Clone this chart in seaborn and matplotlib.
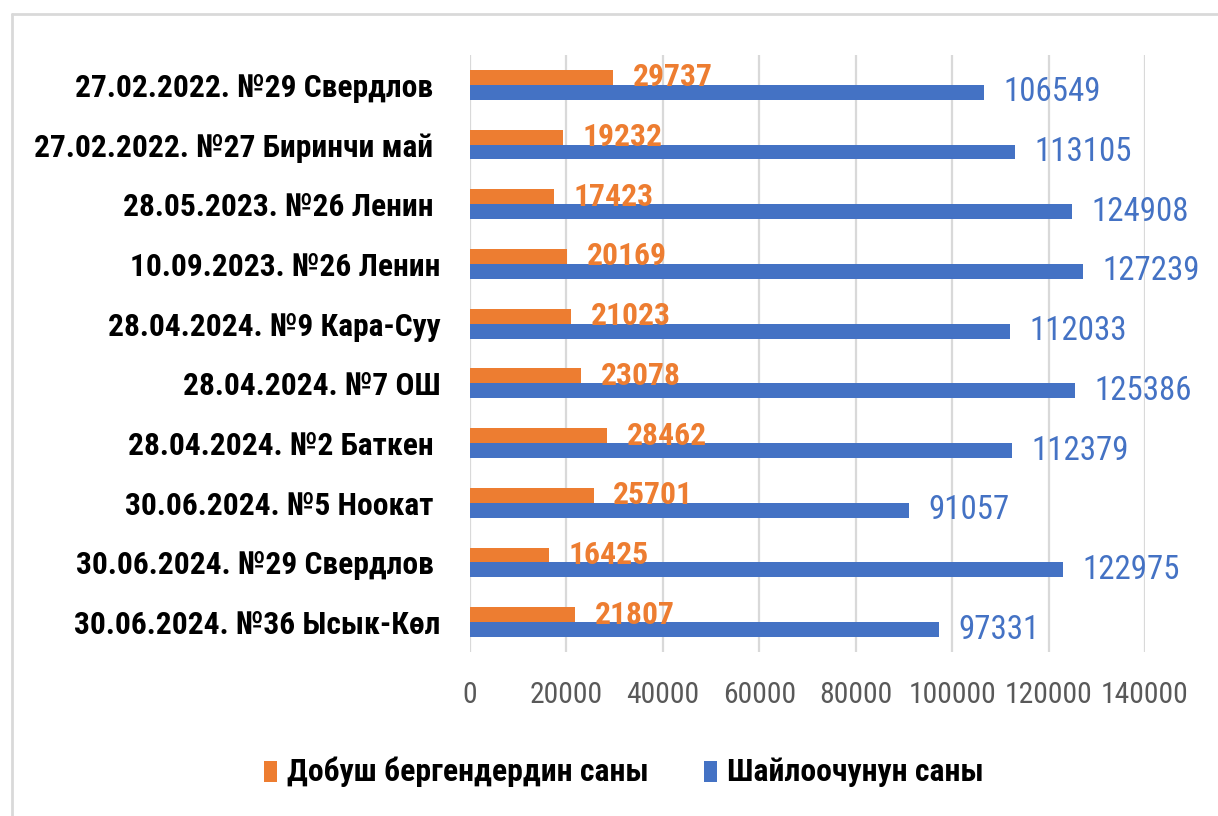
import matplotlib
matplotlib.use("Agg")
import matplotlib.pyplot as plt
import seaborn as sns
import pandas as pd
from matplotlib.lines import Line2D
from matplotlib.patches import Patch
from matplotlib import font_manager

categories = [
    "27.02.2022. №29 Свердлов ",
    "27.02.2022. №27 Биринчи май ",
    "28.05.2023. №26 Ленин ",
    "10.09.2023. №26 Ленин",
    "28.04.2024. №9 Кара-Суу",
    "28.04.2024. №7 ОШ",
    "28.04.2024. №2 Баткен ",
    "30.06.2024. №5 Ноокат ",
    "30.06.2024. №29 Свердлов ",
    "30.06.2024. №36 Ысык-Көл",
]
voted = [29737, 19232, 17423, 20169, 21023, 23078, 28462, 25701, 16425, 21807]
voters = [106549, 113105, 124908, 127239, 112033, 125386, 112379, 91057, 122975, 97331]
series_names = ["Добуш бергендердин саны", "Шайлоочунун саны"]
colors = ["#ED7D31", "#4472C4"]
xticks = [0, 20000, 40000, 60000, 80000, 100000, 120000, 140000]

df = pd.DataFrame({
    "cat": categories * 2,
    "value": voted + voters,
    "series": [series_names[0]] * len(categories) + [series_names[1]] * len(categories),
})

# pick a condensed face if one is installed
names = {f.name for f in font_manager.fontManager.ttflist}
stretch = "normal"
fam = "DejaVu Sans"
for cand in ["Liberation Sans Narrow", "Roboto Condensed", "Open Sans Condensed"]:
    if cand in names:
        fam = cand
        break
else:
    for f in font_manager.fontManager.ttflist:
        if f.name == "DejaVu Sans" and str(f.stretch) in ("condensed", "semi-condensed"):
            stretch = "condensed"
            break

sns.set_theme(style="white")
FONT = [fam, "DejaVu Sans"]
plt.rcParams["font.family"] = FONT
plt.rcParams["font.stretch"] = stretch

W, H = 1218, 816
fig = plt.figure(figsize=(W / 100, H / 100), dpi=100)
ax = fig.add_axes([470 / W, 1 - 652 / H, (1145 - 470) / W, (652 - 55) / H])

sns.barplot(data=df, y="cat", x="value", hue="series", hue_order=series_names,
            order=categories, palette=colors, orient="h", width=0.5,
            saturation=1, ax=ax, legend=False, zorder=2, linewidth=0)

ax.set_xlim(0, 140000)
ax.set_ylim(len(categories) - 0.5, -0.5)
ax.set_xticks(xticks)
ax.set_xticklabels([str(t) for t in xticks], fontsize=19, color="#595959")
ax.tick_params(axis="x", length=0, pad=21)
ax.tick_params(axis="y", length=0, pad=21)
for lbl in ax.get_yticklabels():
    lbl.set_fontsize(20)
    lbl.set_fontweight("bold")
    lbl.set_color("black")
ax.set_xlabel("")
ax.set_ylabel("")
for s in ax.spines.values():
    s.set_visible(False)
ax.xaxis.grid(True, color="#D9D9D9", linewidth=1.6, zorder=0)
ax.yaxis.grid(False)
ax.set_axisbelow(True)

data_texts = []
for container, col, weight in zip(ax.containers, colors, ["bold", "normal"]):
    data_texts.append(ax.bar_label(container, labels=[str(int(v)) for v in container.datavalues],
                                   padding=14, color=col, fontsize=21, fontweight=weight, zorder=5))

handles = [Patch(facecolor=c, edgecolor="none") for c in colors]
leg = fig.legend(handles, series_names, loc="center", bbox_to_anchor=(0.512, 1 - 772 / H),
                 ncol=2, frameon=False, prop={"size": 20, "weight": "bold"},
                 handlelength=0.47, handleheight=0.75, handletextpad=0.36, columnspacing=2.0)
for t in leg.get_texts():
    t.set_color("black")

# fit text sizes to the reference widths (pixels)
fig.canvas.draw()
r = fig.canvas.get_renderer()

def fit(texts, ref_text, target):
    w = ref_text.get_window_extent(r).width
    s = ref_text.get_fontsize() * target / w
    for t in texts:
        t.set_fontsize(s)

ylbls = ax.get_yticklabels()
fit(ylbls, ylbls[3], 441 - 130)
xl = ax.get_xticklabels()
fit(xl, xl[1], 73)
fit(data_texts[0], data_texts[0][0], 80)
fit(data_texts[1], data_texts[1][0], 97)
fit(leg.get_texts(), leg.get_texts()[0], 360)

# outer chart frame (light gray)
fig.add_artist(Line2D([12 / W, 12 / W], [0, 1 - 14 / H], transform=fig.transFigure,
                      color="#D9D9D9", linewidth=2))
fig.add_artist(Line2D([12 / W, 1], [1 - 14 / H, 1 - 14 / H], transform=fig.transFigure,
                      color="#D9D9D9", linewidth=2))

fig.savefig("out.png", dpi=100, facecolor="white")
